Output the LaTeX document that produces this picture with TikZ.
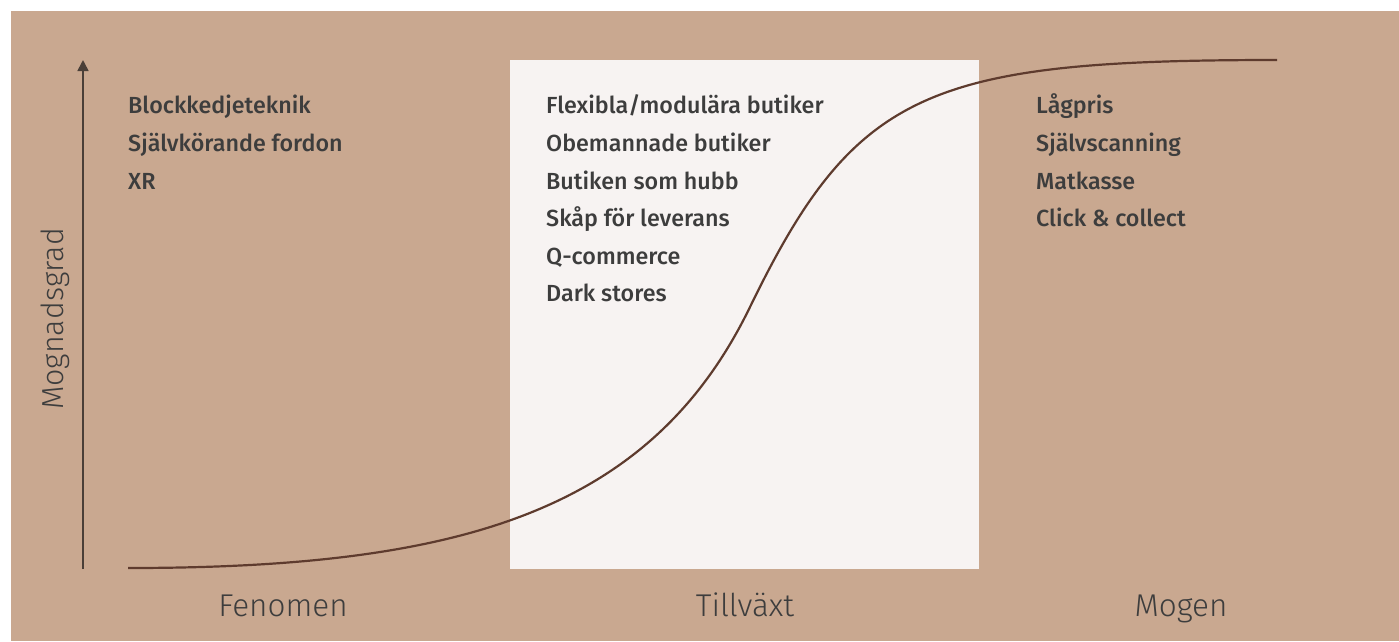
\documentclass[tikz,border=0pt]{standalone}
\usepackage{fontspec}
\setmainfont{Fira Sans}
\newfontfamily\medfont{Fira Sans}[UprightFont=* Medium]
\newfontfamily\lightfont{Fira Sans}[UprightFont=* Light]
\usetikzlibrary{arrows.meta}
\definecolor{bg}{HTML}{C9A890}
\definecolor{boxc}{HTML}{F7F3F2}
\definecolor{txt}{HTML}{3D3D3D}
\definecolor{curvec}{HTML}{5E3B2E}
\definecolor{axisc}{HTML}{4A3F38}
\begin{document}
\begin{tikzpicture}[x=1pt,y=-1pt,
  item/.style={anchor=base west,inner sep=0pt,text=txt,font=\medfont\fontsize{23.3}{23.3}\selectfont},
  stage/.style={anchor=base,inner sep=0pt,text=txt,font=\lightfont\fontsize{31.5}{31.5}\selectfont}]
\useasboundingbox (0,0) rectangle (1399,641);
\fill[white] (0,0) rectangle (1399,641);
\fill[bg] (11,11) rectangle (1399,641);
\fill[boxc] (510,60) rectangle (979,569);
% axis
\coordinate (ax0) at (83,569);
\coordinate (ax1) at (83,60);
\draw[axisc,line width=1.6pt,-{Triangle[width=11pt,length=11pt]}] (ax0) -- (ax1);
\node[rotate=90,anchor=base,inner sep=0pt,text=txt,font=\lightfont\fontsize{30.4}{30.4}\selectfont] (ylab) at (63,319) {Mognadsgrad};
% curve
\coordinate (c0) at (128,568);
\coordinate (cm) at (750,307);
\coordinate (c1) at (1277,60);
\draw[curvec,line width=2.2pt] (c0) .. controls (458,568) and (650,513) .. (cm)
  .. controls (855,90.7) and (927,60) .. (c1);
% items
\node[item] (l1) at (128,113) {Blockkedjeteknik};
\node[item] (l2) at (128,151) {Självkörande fordon};
\node[item] (l3) at (128,189) {XR};
\node[item] (m1) at (546,113) {Flexibla/modulära butiker};
\node[item] (m2) at (546,151) {Obemannade butiker};
\node[item] (m3) at (546,189) {Butiken som hubb};
\node[item] (m4) at (546,226) {Skåp för leverans};
\node[item] (m5) at (546,264) {Q-commerce};
\node[item] (m6) at (546,301) {Dark stores};
\node[item] (r1) at (1036,113) {Lågpris};
\node[item] (r2) at (1036,151) {Självscanning};
\node[item] (r3) at (1036,189) {Matkasse};
\node[item] (r4) at (1036,226) {Click \& collect};
% stages
\node[stage] (s1) at (283,616) {Fenomen};
\node[stage] (s2) at (745,616) {Tillväxt};
\node[stage] (s3) at (1181,616) {Mogen};
\end{tikzpicture}
\end{document}
